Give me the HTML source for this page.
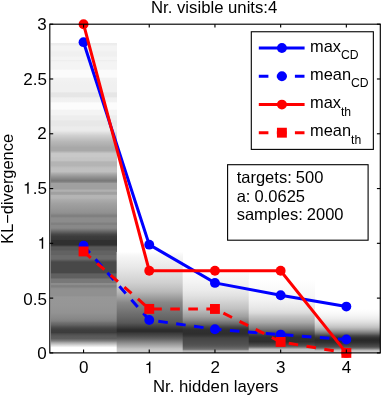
<!DOCTYPE html>
<html><head><meta charset="utf-8"><title>plot</title>
<style>
html,body{margin:0;padding:0;background:#fff;}
svg{display:block;will-change:transform;}
text{font-family:"Liberation Sans",sans-serif;fill:#000;}
</style></head><body>
<svg width="382" height="398" viewBox="0 0 382 398">
<rect x="0" y="0" width="382" height="398" fill="#fff"/>
<defs>
<clipPath id="ax"><rect x="49.8" y="24.2" width="330.5" height="328.7"/></clipPath>
<linearGradient id="c0" gradientUnits="userSpaceOnUse" x1="0" y1="42.6" x2="0" y2="352.9">
<stop offset="0.0000" stop-color="#ffffff"/><stop offset="0.0013" stop-color="#ececec"/><stop offset="0.0077" stop-color="#eeeeee"/><stop offset="0.0110" stop-color="#f4f4f4"/><stop offset="0.0238" stop-color="#f4f4f4"/><stop offset="0.0303" stop-color="#f0f0f0"/><stop offset="0.0432" stop-color="#f0f0f0"/><stop offset="0.0480" stop-color="#f4f4f4"/><stop offset="0.0545" stop-color="#f4f4f4"/><stop offset="0.0577" stop-color="#eeeeee"/><stop offset="0.0609" stop-color="#f2f2f2"/><stop offset="0.0657" stop-color="#f4f4f4"/><stop offset="0.0851" stop-color="#f4f4f4"/><stop offset="0.0899" stop-color="#fbfbfb"/><stop offset="0.1109" stop-color="#fbfbfb"/><stop offset="0.1157" stop-color="#f2f2f2"/><stop offset="0.1366" stop-color="#f0f0f0"/><stop offset="0.1576" stop-color="#f0f0f0"/><stop offset="0.1624" stop-color="#e6e6e6"/><stop offset="0.1737" stop-color="#e6e6e6"/><stop offset="0.1785" stop-color="#f0f0f0"/><stop offset="0.1898" stop-color="#f2f2f2"/><stop offset="0.1947" stop-color="#fcfcfc"/><stop offset="0.2140" stop-color="#fcfcfc"/><stop offset="0.2188" stop-color="#f4f4f4"/><stop offset="0.2317" stop-color="#f4f4f4"/><stop offset="0.2365" stop-color="#eeeeee"/><stop offset="0.2478" stop-color="#eeeeee"/><stop offset="0.2527" stop-color="#e8e8e8"/><stop offset="0.2672" stop-color="#e8e8e8"/><stop offset="0.2720" stop-color="#ececec"/><stop offset="0.2817" stop-color="#ececec"/><stop offset="0.2865" stop-color="#e6e6e6"/><stop offset="0.2897" stop-color="#e0e0e0"/><stop offset="0.2994" stop-color="#d0d0d0"/><stop offset="0.3091" stop-color="#c4c4c4"/><stop offset="0.3190" stop-color="#b8b8b8"/><stop offset="0.3287" stop-color="#b0b0b0"/><stop offset="0.3384" stop-color="#a8a8a8"/><stop offset="0.3481" stop-color="#a8a8a8"/><stop offset="0.3526" stop-color="#b8b8b8"/><stop offset="0.3577" stop-color="#c8c8c8"/><stop offset="0.3674" stop-color="#c8c8c8"/><stop offset="0.3719" stop-color="#c4c4c4"/><stop offset="0.3796" stop-color="#c4c4c4"/><stop offset="0.3848" stop-color="#b4b4b4"/><stop offset="0.3967" stop-color="#b4b4b4"/><stop offset="0.4015" stop-color="#bcbcbc"/><stop offset="0.4064" stop-color="#c0c0c0"/><stop offset="0.4160" stop-color="#c0c0c0"/><stop offset="0.4209" stop-color="#b0b0b0"/><stop offset="0.4306" stop-color="#989898"/><stop offset="0.4380" stop-color="#888888"/><stop offset="0.4454" stop-color="#787878"/><stop offset="0.4502" stop-color="#888888"/><stop offset="0.4541" stop-color="#a0a0a0"/><stop offset="0.4718" stop-color="#a0a0a0"/><stop offset="0.4750" stop-color="#b0b0b0"/><stop offset="0.4792" stop-color="#b0b0b0"/><stop offset="0.4821" stop-color="#a0a0a0"/><stop offset="0.4889" stop-color="#a0a0a0"/><stop offset="0.4918" stop-color="#b4b4b4"/><stop offset="0.5008" stop-color="#b4b4b4"/><stop offset="0.5060" stop-color="#acacac"/><stop offset="0.5201" stop-color="#a0a0a0"/><stop offset="0.5350" stop-color="#989898"/><stop offset="0.5491" stop-color="#909090"/><stop offset="0.5569" stop-color="#808080"/><stop offset="0.5620" stop-color="#808080"/><stop offset="0.5646" stop-color="#8c8c8c"/><stop offset="0.5782" stop-color="#8c8c8c"/><stop offset="0.5814" stop-color="#808080"/><stop offset="0.5862" stop-color="#808080"/><stop offset="0.5888" stop-color="#888888"/><stop offset="0.5975" stop-color="#888888"/><stop offset="0.6030" stop-color="#787878"/><stop offset="0.6104" stop-color="#606060"/><stop offset="0.6178" stop-color="#484848"/><stop offset="0.6249" stop-color="#3c3c3c"/><stop offset="0.6345" stop-color="#383838"/><stop offset="0.6378" stop-color="#303030"/><stop offset="0.6516" stop-color="#303030"/><stop offset="0.6549" stop-color="#404040"/><stop offset="0.6587" stop-color="#585858"/><stop offset="0.6684" stop-color="#585858"/><stop offset="0.6716" stop-color="#626262"/><stop offset="0.6832" stop-color="#626262"/><stop offset="0.6864" stop-color="#6a6a6a"/><stop offset="0.6974" stop-color="#6a6a6a"/><stop offset="0.7025" stop-color="#585858"/><stop offset="0.7071" stop-color="#484848"/><stop offset="0.7415" stop-color="#484848"/><stop offset="0.7457" stop-color="#606060"/><stop offset="0.7586" stop-color="#606060"/><stop offset="0.7618" stop-color="#787878"/><stop offset="0.7731" stop-color="#787878"/><stop offset="0.7760" stop-color="#8c8c8c"/><stop offset="0.7805" stop-color="#8c8c8c"/><stop offset="0.7831" stop-color="#808080"/><stop offset="0.7876" stop-color="#808080"/><stop offset="0.7908" stop-color="#8c8c8c"/><stop offset="0.7973" stop-color="#909090"/><stop offset="0.8150" stop-color="#909090"/><stop offset="0.8199" stop-color="#979797"/><stop offset="0.8489" stop-color="#969696"/><stop offset="0.8714" stop-color="#929292"/><stop offset="0.8779" stop-color="#8e8e8e"/><stop offset="0.8888" stop-color="#888888"/><stop offset="0.8972" stop-color="#808080"/><stop offset="0.9030" stop-color="#707070"/><stop offset="0.9101" stop-color="#626262"/><stop offset="0.9149" stop-color="#545454"/><stop offset="0.9198" stop-color="#484848"/><stop offset="0.9262" stop-color="#3e3e3e"/><stop offset="0.9343" stop-color="#3c3c3c"/><stop offset="0.9391" stop-color="#4c4c4c"/><stop offset="0.9455" stop-color="#585858"/><stop offset="0.9539" stop-color="#5e5e5e"/><stop offset="0.9617" stop-color="#808080"/><stop offset="0.9671" stop-color="#a8a8a8"/><stop offset="0.9726" stop-color="#c8c8c8"/><stop offset="0.9784" stop-color="#e8e8e8"/><stop offset="0.9829" stop-color="#ffffff"/><stop offset="1.0000" stop-color="#ffffff"/>
</linearGradient>
<linearGradient id="c1" gradientUnits="userSpaceOnUse" x1="0" y1="252" x2="0" y2="352.9">
<stop offset="0.0000" stop-color="#ffffff"/><stop offset="0.0178" stop-color="#fafafa"/><stop offset="0.0555" stop-color="#f4f4f4"/><stop offset="0.1051" stop-color="#eeeeee"/><stop offset="0.1546" stop-color="#e8e8e8"/><stop offset="0.2042" stop-color="#e0e0e0"/><stop offset="0.2547" stop-color="#d8d8d8"/><stop offset="0.3043" stop-color="#d0d0d0"/><stop offset="0.3538" stop-color="#c4c4c4"/><stop offset="0.3964" stop-color="#b8b8b8"/><stop offset="0.4311" stop-color="#a8a8a8"/><stop offset="0.4658" stop-color="#989898"/><stop offset="0.5015" stop-color="#888888"/><stop offset="0.5352" stop-color="#808080"/><stop offset="0.5709" stop-color="#787878"/><stop offset="0.6046" stop-color="#707070"/><stop offset="0.6412" stop-color="#686868"/><stop offset="0.6739" stop-color="#606060"/><stop offset="0.7017" stop-color="#585858"/><stop offset="0.7284" stop-color="#484848"/><stop offset="0.7532" stop-color="#383838"/><stop offset="0.7711" stop-color="#2c2c2c"/><stop offset="0.7889" stop-color="#2c2c2c"/><stop offset="0.8067" stop-color="#3c3c3c"/><stop offset="0.8325" stop-color="#4c4c4c"/><stop offset="0.8583" stop-color="#606060"/><stop offset="0.8850" stop-color="#7c7c7c"/><stop offset="0.9118" stop-color="#989898"/><stop offset="0.9376" stop-color="#b0b0b0"/><stop offset="0.9584" stop-color="#c4c4c4"/><stop offset="0.9752" stop-color="#cccccc"/><stop offset="1.0000" stop-color="#cccccc"/>
</linearGradient>
<linearGradient id="c2" gradientUnits="userSpaceOnUse" x1="0" y1="267" x2="0" y2="352.9">
<stop offset="0.0000" stop-color="#ffffff"/><stop offset="0.0931" stop-color="#fafafa"/><stop offset="0.1816" stop-color="#f3f3f3"/><stop offset="0.2678" stop-color="#ebebeb"/><stop offset="0.3260" stop-color="#e3e3e3"/><stop offset="0.3725" stop-color="#dadada"/><stop offset="0.4424" stop-color="#cacaca"/><stop offset="0.4889" stop-color="#c0c0c0"/><stop offset="0.5332" stop-color="#b0b0b0"/><stop offset="0.5763" stop-color="#a0a0a0"/><stop offset="0.6205" stop-color="#888888"/><stop offset="0.6636" stop-color="#686868"/><stop offset="0.6868" stop-color="#505050"/><stop offset="0.7101" stop-color="#3c3c3c"/><stop offset="0.7334" stop-color="#303030"/><stop offset="0.7800" stop-color="#2e2e2e"/><stop offset="0.8033" stop-color="#363636"/><stop offset="0.8265" stop-color="#444444"/><stop offset="0.8615" stop-color="#4a4a4a"/><stop offset="0.8964" stop-color="#505050"/><stop offset="0.9220" stop-color="#585858"/><stop offset="0.9464" stop-color="#686868"/><stop offset="0.9639" stop-color="#808080"/><stop offset="0.9756" stop-color="#b8b8b8"/><stop offset="1.0000" stop-color="#c0c0c0"/>
</linearGradient>
<linearGradient id="c3" gradientUnits="userSpaceOnUse" x1="0" y1="279" x2="0" y2="352.9">
<stop offset="0.0000" stop-color="#ffffff"/><stop offset="0.0541" stop-color="#fdfdfd"/><stop offset="0.1488" stop-color="#fafafa"/><stop offset="0.2395" stop-color="#f6f6f6"/><stop offset="0.2977" stop-color="#f2f2f2"/><stop offset="0.3613" stop-color="#ebebeb"/><stop offset="0.4195" stop-color="#e3e3e3"/><stop offset="0.4601" stop-color="#dadada"/><stop offset="0.5007" stop-color="#c8c8c8"/><stop offset="0.5453" stop-color="#b8b8b8"/><stop offset="0.5886" stop-color="#a8a8a8"/><stop offset="0.6171" stop-color="#989898"/><stop offset="0.6455" stop-color="#888888"/><stop offset="0.6739" stop-color="#787878"/><stop offset="0.6955" stop-color="#686868"/><stop offset="0.7172" stop-color="#585858"/><stop offset="0.7442" stop-color="#484848"/><stop offset="0.7673" stop-color="#383838"/><stop offset="0.7889" stop-color="#303030"/><stop offset="0.8457" stop-color="#2e2e2e"/><stop offset="0.8660" stop-color="#383838"/><stop offset="0.8890" stop-color="#484848"/><stop offset="0.9093" stop-color="#585858"/><stop offset="0.9242" stop-color="#787878"/><stop offset="0.9391" stop-color="#a0a0a0"/><stop offset="0.9526" stop-color="#c0c0c0"/><stop offset="0.9811" stop-color="#c8c8c8"/><stop offset="1.0000" stop-color="#c8c8c8"/>
</linearGradient>
<linearGradient id="c4" gradientUnits="userSpaceOnUse" x1="0" y1="309" x2="0" y2="352.9">
<stop offset="0.0000" stop-color="#ffffff"/><stop offset="0.0911" stop-color="#fafafa"/><stop offset="0.1595" stop-color="#f4f4f4"/><stop offset="0.2278" stop-color="#ececec"/><stop offset="0.2961" stop-color="#e0e0e0"/><stop offset="0.3645" stop-color="#d0d0d0"/><stop offset="0.4191" stop-color="#c0c0c0"/><stop offset="0.4715" stop-color="#a8a8a8"/><stop offset="0.5239" stop-color="#888888"/><stop offset="0.5695" stop-color="#686868"/><stop offset="0.6082" stop-color="#484848"/><stop offset="0.6606" stop-color="#303030"/><stop offset="0.7107" stop-color="#282828"/><stop offset="0.7631" stop-color="#303030"/><stop offset="0.8155" stop-color="#404040"/><stop offset="0.8656" stop-color="#505050"/><stop offset="0.8998" stop-color="#787878"/><stop offset="0.9339" stop-color="#b0b0b0"/><stop offset="0.9567" stop-color="#c8c8c8"/><stop offset="1.0000" stop-color="#cccccc"/>
</linearGradient>
</defs>
<g clip-path="url(#ax)">
<rect x="50.7" y="42.6" width="66.3" height="310.3" fill="url(#c0)"/>
<rect x="116.7" y="252" width="66.3" height="100.9" fill="url(#c1)"/>
<rect x="182.7" y="267" width="66.3" height="85.9" fill="url(#c2)"/>
<rect x="248.7" y="279" width="66.3" height="73.9" fill="url(#c3)"/>
<rect x="314.7" y="309" width="66" height="43.9" fill="url(#c4)"/>
</g>
<polyline points="83.55,42.17 149.25,244.65 214.95,282.89 280.65,295.27 346.35,306.60" fill="none" stroke="#0000ff" stroke-width="3" stroke-linejoin="miter"/>
<circle cx="83.55" cy="42.17" r="4.95" fill="#0000ff"/><circle cx="149.25" cy="244.65" r="4.95" fill="#0000ff"/><circle cx="214.95" cy="282.89" r="4.95" fill="#0000ff"/><circle cx="280.65" cy="295.27" r="4.95" fill="#0000ff"/><circle cx="346.35" cy="306.60" r="4.95" fill="#0000ff"/>
<polyline points="83.55,245.74 149.25,320.03 214.95,329.23 280.65,334.60 346.35,339.53" fill="none" stroke="#0000ff" stroke-width="3" stroke-linejoin="miter" stroke-dasharray="9.6 8.45"/>
<circle cx="83.55" cy="245.74" r="4.95" fill="#0000ff"/><circle cx="149.25" cy="320.03" r="4.95" fill="#0000ff"/><circle cx="214.95" cy="329.23" r="4.95" fill="#0000ff"/><circle cx="280.65" cy="334.60" r="4.95" fill="#0000ff"/><circle cx="346.35" cy="339.53" r="4.95" fill="#0000ff"/>
<polyline points="83.55,24.20 149.25,270.72 214.95,270.72 280.65,270.72 346.35,352.90" fill="none" stroke="#ff0000" stroke-width="3" stroke-linejoin="miter"/>
<circle cx="83.55" cy="24.20" r="4.95" fill="#ff0000"/><circle cx="149.25" cy="270.72" r="4.95" fill="#ff0000"/><circle cx="214.95" cy="270.72" r="4.95" fill="#ff0000"/><circle cx="280.65" cy="270.72" r="4.95" fill="#ff0000"/><circle cx="346.35" cy="352.90" r="4.95" fill="#ff0000"/>
<polyline points="83.55,251.44 149.25,308.90 214.95,308.96 280.65,341.94 346.35,352.90" fill="none" stroke="#ff0000" stroke-width="3" stroke-linejoin="miter" stroke-dasharray="9.6 8.45"/>
<rect x="78.60" y="246.49" width="9.9" height="9.9" fill="#ff0000"/><rect x="144.30" y="303.95" width="9.9" height="9.9" fill="#ff0000"/><rect x="210.00" y="304.01" width="9.9" height="9.9" fill="#ff0000"/><rect x="275.70" y="336.99" width="9.9" height="9.9" fill="#ff0000"/><rect x="341.40" y="347.95" width="9.9" height="9.9" fill="#ff0000"/>
<g stroke="#000" stroke-width="1.15" fill="none" stroke-linecap="butt">
<rect x="49.8" y="24.2" width="330.5" height="328.7"/>
<line x1="83.55" y1="352.9" x2="83.55" y2="349.5"/><line x1="83.55" y1="24.2" x2="83.55" y2="27.6"/><line x1="149.25" y1="352.9" x2="149.25" y2="349.5"/><line x1="149.25" y1="24.2" x2="149.25" y2="27.6"/><line x1="214.95" y1="352.9" x2="214.95" y2="349.5"/><line x1="214.95" y1="24.2" x2="214.95" y2="27.6"/><line x1="280.65" y1="352.9" x2="280.65" y2="349.5"/><line x1="280.65" y1="24.2" x2="280.65" y2="27.6"/><line x1="346.35" y1="352.9" x2="346.35" y2="349.5"/><line x1="346.35" y1="24.2" x2="346.35" y2="27.6"/><line x1="49.8" y1="352.90" x2="53.2" y2="352.90"/><line x1="380.3" y1="352.90" x2="376.9" y2="352.90"/><line x1="49.8" y1="298.12" x2="53.2" y2="298.12"/><line x1="380.3" y1="298.12" x2="376.9" y2="298.12"/><line x1="49.8" y1="243.33" x2="53.2" y2="243.33"/><line x1="380.3" y1="243.33" x2="376.9" y2="243.33"/><line x1="49.8" y1="188.55" x2="53.2" y2="188.55"/><line x1="380.3" y1="188.55" x2="376.9" y2="188.55"/><line x1="49.8" y1="133.77" x2="53.2" y2="133.77"/><line x1="380.3" y1="133.77" x2="376.9" y2="133.77"/><line x1="49.8" y1="78.98" x2="53.2" y2="78.98"/><line x1="380.3" y1="78.98" x2="376.9" y2="78.98"/><line x1="49.8" y1="24.20" x2="53.2" y2="24.20"/><line x1="380.3" y1="24.20" x2="376.9" y2="24.20"/>
</g>
<text transform="translate(46.8,359) scale(1.04,1)" font-size="16.4" text-anchor="end">0</text><text transform="translate(46.9,305) scale(1.04,1)" font-size="16.4" text-anchor="end">0.5</text><path d="M43.19 248.80 L41.75 248.80 L41.75 240.52 L39.17 240.52 L39.17 239.48 C40.62 239.30 41.44 238.96 41.75 238.30 C41.96 237.89 42.09 237.48 42.26 237.17 L43.19 237.17 Z" fill="#000"/><path d="M28.69 193.80 L27.25 193.80 L27.25 185.52 L24.67 185.52 L24.67 184.48 C26.12 184.30 26.94 183.96 27.25 183.30 C27.46 182.89 27.59 182.48 27.76 182.17 L28.69 182.17 Z" fill="#000"/><text transform="translate(46.9,194) scale(1.04,1)" font-size="16.4" text-anchor="end">.5</text><text transform="translate(46.8,139) scale(1.04,1)" font-size="16.4" text-anchor="end">2</text><text transform="translate(46.9,85) scale(1.04,1)" font-size="16.4" text-anchor="end">2.5</text><text transform="translate(46.8,30) scale(1.04,1)" font-size="16.4" text-anchor="end">3</text>
<text transform="translate(83.75,373) scale(1.04,1)" font-size="16.4" text-anchor="middle">0</text><path d="M150.39 373.20 L148.95 373.20 L148.95 364.92 L146.37 364.92 L146.37 363.88 C147.82 363.70 148.64 363.36 148.95 362.70 C149.16 362.29 149.29 361.88 149.46 361.57 L150.39 361.57 Z" fill="#000"/><text transform="translate(215.15,373) scale(1.04,1)" font-size="16.4" text-anchor="middle">2</text><text transform="translate(280.85,373) scale(1.04,1)" font-size="16.4" text-anchor="middle">3</text><text transform="translate(346.55,373) scale(1.04,1)" font-size="16.4" text-anchor="middle">4</text>
<text transform="translate(151,13) scale(1.02,1)" font-size="16.4">Nr. visible units:4</text>
<text transform="translate(153,392) scale(1.02,1)" font-size="16.4">Nr. hidden layers</text>
<text transform="translate(12.8,188.9) rotate(-90)" font-size="16.4" text-anchor="middle">KL−divergence</text>
<rect x="251.3" y="31.75" width="122.05" height="117.65" fill="#fff" stroke="#000" stroke-width="1.1"/>
<line x1="258.8" y1="48.05" x2="304.6" y2="48.05" stroke="#0000ff" stroke-width="3"/><circle cx="281.9" cy="48.05" r="4.95" fill="#0000ff"/><text x="310.0" y="52" font-size="16.4">max<tspan font-size="12.2" dy="7.2">CD</tspan></text>
<line x1="258.8" y1="76.2" x2="304.6" y2="76.2" stroke="#0000ff" stroke-width="3" stroke-dasharray="9.6 8.45"/><circle cx="281.9" cy="76.2" r="4.95" fill="#0000ff"/><text x="310.0" y="80" font-size="16.4">mean<tspan font-size="12.2" dy="7.2">CD</tspan></text>
<line x1="258.8" y1="104.6" x2="304.6" y2="104.6" stroke="#ff0000" stroke-width="3"/><circle cx="281.9" cy="104.6" r="4.95" fill="#ff0000"/><text x="310.0" y="108" font-size="16.4">max<tspan font-size="12.2" dy="8.2">th</tspan></text>
<line x1="258.8" y1="132.7" x2="304.6" y2="132.7" stroke="#ff0000" stroke-width="3" stroke-dasharray="9.6 8.45"/><rect x="276.95" y="127.75" width="9.9" height="9.9" fill="#ff0000"/><text x="310.0" y="136" font-size="16.4">mean<tspan font-size="12.2" dy="8.2">th</tspan></text>
<rect x="227.6" y="164.7" width="140.5" height="75.5" fill="#fff" stroke="#000" stroke-width="1.1"/>
<text x="236.7" y="183" font-size="16.5" word-spacing="-0.5">targets: 500</text>
<text x="236.7" y="202" font-size="16.5" word-spacing="-0.5">a: 0.0625</text>
<text x="236.7" y="220" font-size="16.5" word-spacing="-0.5">samples: 2000</text>
</svg>
</body></html>
